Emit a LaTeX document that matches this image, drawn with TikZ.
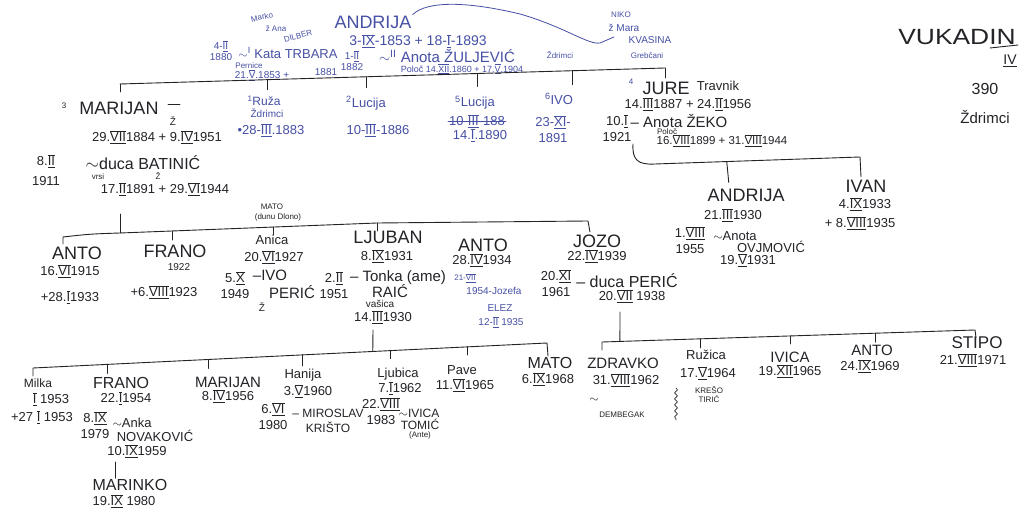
\documentclass[tikz,border=0pt]{standalone}
\usepackage{fontspec}
\setmainfont{Liberation Sans}
\usetikzlibrary{calc,decorations.pathmorphing}
\definecolor{inkc}{RGB}{35,35,40}
\definecolor{bluec}{RGB}{70,80,165}
\newcommand\rn[1]{\ensuremath{\overline{\underline{\mbox{#1}}}}}
\begin{document}
\begin{tikzpicture}[x=1pt,y=-1pt,
  every node/.style={inner sep=1pt, text=inkc, align=center},
  bl/.style={text=bluec},
  nm/.style={font=\fontsize{18}{18}\selectfont},
  fa/.style={font=\fontsize{16}{16}\selectfont},
  fb/.style={font=\fontsize{15}{15}\selectfont},
  fc/.style={font=\fontsize{13}{13}\selectfont},
  fd/.style={font=\fontsize{12}{12}\selectfont},
  dt/.style={font=\fontsize{13}{16}\selectfont},
  sm/.style={font=\fontsize{10}{11}\selectfont},
  tn/.style={font=\fontsize{8}{9}\selectfont},
  ln/.style={draw=inkc, line width=0.9pt, line cap=round, line join=round},
  bln/.style={draw=bluec, line width=0.8pt, line cap=round, line join=round},
]
\useasboundingbox[fill=white] (0,0) rectangle (1024,518);

% ---------- top generation (blue ink) ----------
\node[bl,tn,rotate=12] (marko) at (262,17) {Marko};
\node[bl,tn] (ana) at (276,29) {ž Ana};
\node[bl,tn,rotate=15] (dilber) at (298,36) {DILBER};
\node[bl,nm] (andrija) at (373,22) {ANDRIJA};
\node[bl,font=\fontsize{14}{14}\selectfont] (andrijad) at (418,41) {3-\rn{IX}-1853 + 18-\rn{I}-1893};
\node[bl,sm] (m1880) at (221,51) {4-\rn{II}\\1880};
\node[bl,dt] (kata) at (288,53) {$\sim^{\mathrm{I}}$ Kata TRBARA};
\node[bl,tn] (pernice) at (249,66) {Pernice};
\node[bl,sm] (katad) at (262,75) {21.\rn{V}.1853 +};
\node[bl,sm] (k1881) at (326,72) {1881};
\node[bl,sm] (m1882) at (352,61) {1-\rn{II}\\1882};
\node[bl,fb] (anota1) at (447,56) {$\sim^{\mathrm{II}}$ Anota ŽULJEVIĆ};
\node[bl,tn] (zdr1) at (560,55) {Ždrimci};
\node[bl,font=\fontsize{9}{9}\selectfont] (anota1d) at (462,69) {Poloč 14.\rn{XII}.1860 + 17.\rn{V}.1904};
\node[bl,tn] (niko) at (621,15) {NIKO};
\node[bl,sm] (mara) at (624,28) {ž Mara};
\node[bl,sm] (kvasina) at (650,40) {KVASINA};
\node[bl,tn] (grebcani) at (647,56) {Grebčani};
\coordinate (curveend) at (614,37);
\draw[bln] (andrija.north east) .. controls (428,0) and (470,2) .. (520,14)
  .. controls (565,27) and (588,45) .. (600,43) -- (curveend);

% ---------- generation 1 bar ----------
\coordinate (g1a) at (120,84);
\coordinate (g1b) at (665,68);
\draw[ln] (g1a) -- (g1b);
\coordinate (t1) at ($(g1a)!0.27!(g1b)$);
\coordinate (t2) at ($(g1a)!0.453!(g1b)$);
\coordinate (t3) at ($(g1a)!0.655!(g1b)$);
\coordinate (t4) at ($(g1a)!0.831!(g1b)$);
\draw[ln] (g1a) -- ++(0,8);
\draw[ln] (t1) -- ++(0,10);
\draw[ln] (t2) -- ++(0,11);
\draw[ln] (t3) -- ++(0,13);
\draw[ln] (t4) -- ++(0,14);
\draw[ln] (g1b) -- ++(0,10);

% children of Andrija
\node[tn] (m3) at (64,106) {3};
\node[nm] (marijan) at (119,108) {MARIJAN};
\node[sm] (mz) at (173,121) {Ž};
\draw[ln,line width=0.7pt] (168,104) -- (180,104);
\node[dt] (marijand) at (157,137) {29.\rn{VII}1884 + 9.\rn{IV}1951};
\node[dt,font=\fontsize{13}{20}\selectfont] (m1911) at (46,170) {8.\rn{II}\\1911};
\node[fa] (batinic) at (143,163) {$\sim$duca BATINIĆ};
\node[tn] (vrsi) at (98,177) {vrsi};
\node[tn] (bz) at (158,176) {Ž};
\node[dt] (batinicd) at (165,189) {17.\rn{II}1891 + 29.\rn{VI}1944};

\node[bl,fd] (ruza) at (264,101) {\textsuperscript{1}Ruža};
\node[bl,sm] (ruzab) at (267,113) {Ždrimci};
\node[bl,dt] (ruzad) at (271,130) {•28-\rn{III}.1883};
\node[bl,fc] (lucija1) at (366,103) {\textsuperscript{2}Lucija};
\node[bl,dt] (lucija1d) at (378,130) {10-\rn{III}-1886};
\node[bl,fc] (lucija2) at (475,103) {\textsuperscript{5}Lucija};
\node[bl,dt] (lucija2x) at (477,121) {10-\rn{III}-188};
\draw[bln] (lucija2x.west) -- (lucija2x.east);
\node[bl,dt] (lucija2d) at (480,135) {14.\rn{I}.1890};
\node[bl,fc] (ivo1) at (559,99) {\textsuperscript{6}IVO};
\node[bl,dt] (ivo1d) at (553,129) {23-\rn{XI}-\\1891};

% Jure
\node[bl,tn] (j4) at (631,82) {4};
\node[nm] (jure) at (666,88) {JURE};
\node[fc] (travnik) at (718,86) {Travnik};
\node[dt] (jured) at (688,104) {14.\rn{III}1887 + 24.\rn{II}1956};
\node[dt] (m1921) at (617,128) {10.\rn{I}\\1921};
\node[fb] (zeko) at (679,121) {– Anota ŽEKO};
\node[tn] (poloc2) at (667,132) {Poloč};
\node[font=\fontsize{11.5}{12}\selectfont] (zekod) at (722,141) {16.\rn{VIII}1899 + 31.\rn{VIII}1944};
\coordinate (zk) at (633,144);
\coordinate (zka) at (655,164);
\coordinate (zkb) at (860,157);
\draw[ln] (zk) .. controls (632,160) and (638,165) .. (zka) -- (zkb) -- ++(1,20);
\coordinate (zkt) at ($(zka)!0.35!(zkb)$);
\draw[ln] (zkt) -- ++(2,21);

\node[nm] (andrija2) at (746,195) {ANDRIJA};
\node[dt] (andrija2d) at (733,215) {21.\rn{III}1930};
\node[dt] (m1955) at (690,240) {1.\rn{VIII}\\1955};
\node[fc] (ovj) at (735,236) {$\sim$Anota};
\node[fc] (ovj2) at (771,247) {OVJMOVIĆ};
\node[dt] (ovjd) at (748,260) {19.\rn{V}1931};
\node[nm] (ivan) at (866,186) {IVAN};
\node[dt] (ivand) at (865,204) {4.\rn{IX}1933};
\node[dt] (ivane) at (860,223) {+ 8.\rn{VIII}1935};

% top right
\node[font=\fontsize{22}{22}\selectfont] (vukadin) at (957,37) {\scalebox{1.2}[1]{VUKADIN}};
\draw[ln] (990,48) -- (1018,45);
\node[font=\fontsize{14}{14}\selectfont] (iv) at (1010,61) {\underline{IV}};
\node[fa] (n390) at (985,89) {390};
\node[fb] (zdr2) at (985,117) {Ždrimci};

% ---------- generation 2 (Marijan) ----------
\coordinate (m2top) at (120,214);
\coordinate (g2m) at (120,233);
\coordinate (g2fr) at (172,231);
\coordinate (g2an) at (273,227);
\coordinate (g2lj) at (377,223);
\coordinate (g2jo) at (588,221);
\draw[ln] (63,244) -- (63,237) .. controls (90,234) .. (g2m) -- (g2fr) -- (g2lj) -- (g2jo) -- ++(2,11);
\draw[ln] (m2top) -- (g2m);
\draw[ln] (g2fr) -- ++(0,9);
\draw[ln] (g2an) -- ++(0,8);
\draw[ln] (g2lj) -- ++(0,8);

\node[nm] (anto1) at (77,253) {ANTO};
\node[dt] (anto1d) at (70,271) {16.\rn{VI}1915};
\node[dt] (anto1e) at (70,297) {+28.\rn{I}1933};
\node[nm] (frano1) at (175,251) {FRANO};
\node[sm] (frano1d) at (179,267) {1922};
\node[dt] (frano1e) at (164,292) {+6.\rn{VIII}1923};
\node[tn] (mato1) at (272,207) {MATO};
\node[tn] (mato1b) at (278,217) {(dunu Dlono)};
\node[fc] (anica) at (272,240) {Anica};
\node[dt] (anicad) at (274,257) {20.\rn{VI}1927};
\node[dt] (m1949) at (235,285) {5.\rn{X}\\1949};
\node[fb] (ivo) at (270,275) {–IVO};
\node[fb] (peric1) at (292,292) {PERIĆ};
\node[sm] (pz) at (262,307) {Ž};
\node[nm] (ljuban) at (388,237) {LJUBAN};
\node[dt] (ljuband) at (387,256) {8.\rn{IX}1931};
\node[dt] (m1951) at (334,285) {2.\rn{II}\\1951};
\node[fb] (tonka) at (398,278) {– Tonka (ame)};
\node[fb] (raic) at (390,291) {RAIĆ};
\node[sm] (vasica) at (380,304) {vašica};
\node[dt] (tonkad) at (383,317) {14.\rn{III}1930};
\node[nm] (anto2) at (483,245) {ANTO};
\node[dt] (anto2d) at (482,260) {28.\rn{IV}1934};
\node[bl,tn] (j1) at (465,278) {21-\rn{VII}};
\node[bl,sm] (jozefa) at (494,291) {1954-Jozefa};
\node[bl,sm] (elez) at (500,308) {ELEZ};
\node[bl,sm] (jozefad) at (501,322) {12-\rn{II} 1935};
\node[nm] (jozo) at (597,241) {JOZO};
\node[dt] (jozod) at (597,256) {22.\rn{IV}1939};
\node[dt] (m1961) at (556,283) {20.\rn{XI}\\1961};
\node[fa] (peric2) at (627,281) {– duca PERIĆ};
\node[dt] (peric2d) at (632,296) {20.\rn{VII} 1938};

% ---------- generation 3 (Ljuban) ----------
\coordinate (g3a) at (33,368);
\coordinate (g3b) at (547,343);
\coordinate (g3top) at (373,330);
\coordinate (g3p) at ($(g3a)!0.661!(g3b)$);
\draw[ln] (33,376) -- (g3a) -- (g3b) -- ++(1,13);
\draw[ln] (g3top) -- (g3p);
\draw[ln] ($(g3a)!0.144!(g3b)$) -- ++(0,9);
\draw[ln] ($(g3a)!0.342!(g3b)$) -- ++(0,9);
\draw[ln] ($(g3a)!0.525!(g3b)$) -- ++(0,11);
\draw[ln] ($(g3a)!0.695!(g3b)$) -- ++(0,8);
\draw[ln] ($(g3a)!0.846!(g3b)$) -- ++(0,8);

\node[fd] (milka) at (38,383) {Milka};
\node[dt] (milkad) at (51,399) {\rn{I} 1953};
\node[dt] (milkae) at (42,417) {+27 \rn{I} 1953};
\node[fa] (frano2) at (121,383) {FRANO};
\node[dt] (frano2d) at (126,398) {22.\rn{I}1954};
\node[dt] (m1979) at (95,425) {8.\rn{IX}\\1979};
\node[fc] (anka) at (132,423) {$\sim$Anka};
\node[fc] (novak) at (155,436) {NOVAKOVIĆ};
\node[dt] (ankad) at (137,451) {10.\rn{IX}1959};
\coordinate (mk) at (115,462);
\node[fa] (marinko) at (130,485) {MARINKO};
\draw[ln] (mk) -- (mk |- marinko.north);
\node[dt] (marinkod) at (124,501) {19.\rn{IX} 1980};
\node[fb] (marijan2) at (228,382) {MARIJAN};
\node[dt] (marijan2d) at (228,396) {8.\rn{IV}1956};
\node[fc] (hanija) at (303,375) {Hanija};
\node[dt] (hanijad) at (308,391) {3.\rn{V}1960};
\node[dt] (m1980) at (273,416) {6.\rn{VI}\\1980};
\node[fd] (miroslav) at (328,413) {– MIROSLAV};
\node[fd] (kristo) at (328,427) {KRIŠTO};
\node[fc] (ljubica) at (398,374) {Ljubica};
\node[dt] (ljubicad) at (400,388) {7.\rn{I}1962};
\node[dt] (m1983) at (381,411) {22.\rn{VIII}\\1983};
\node[fd] (ivica1) at (419,413) {$\sim$IVICA};
\node[fd] (tomic) at (420,424) {TOMIĆ};
\node[tn] (ante) at (420,435) {(Ante)};
\node[fc] (pave) at (462,370) {Pave};
\node[dt] (paved) at (465,385) {11.\rn{VI}1965};
\node[fa] (mato2) at (550,363) {MATO};
\node[dt] (mato2d) at (548,379) {6.\rn{IX}1968};

% ---------- generation 3 (Jozo) ----------
\coordinate (g4a) at (602,342);
\coordinate (g4b) at (975,330);
\coordinate (g4top) at (620,312);
\coordinate (g4p) at ($(g4a)!0.048!(g4b)$);
\draw[ln] (602,350) -- (g4a) -- (g4b) -- ++(1,8);
\draw[ln] (g4top) -- (g4p);
\draw[ln] ($(g4a)!0.263!(g4b)$) -- ++(0,9);
\draw[ln] ($(g4a)!0.504!(g4b)$) -- ++(0,8);
\draw[ln] ($(g4a)!0.732!(g4b)$) -- ++(0,9);

\node[fb] (zdravko) at (623,363) {ZDRAVKO};
\node[dt] (zdravkod) at (626,380) {31.\rn{VIII}1962};
\node[dt] (zt) at (594,400) {$\sim$};
\node[tn] (dembegak) at (622,415) {DEMBEGAK};
\node[fc] (ruzica) at (706,355) {Ružica};
\node[dt] (ruzicad) at (708,373) {17.\rn{V}1964};
\node[tn] (kreso) at (709,395) {KREŠO\\TIRIĆ};
\draw[ln,line width=0.6pt,decorate,decoration={snake,amplitude=1.5pt,segment length=6pt}] (676,388) -- (676,420);
\node[fb] (ivica2) at (790,357) {IVICA};
\node[dt] (ivica2d) at (790,371) {19.\rn{XII}1965};
\node[fb] (anto3) at (872,350) {ANTO};
\node[dt] (anto3d) at (870,366) {24.\rn{IX}1969};
\node[font=\fontsize{17}{17}\selectfont] (stipo) at (977,343) {STIPO};
\node[dt] (stipod) at (973,360) {21.\rn{VIII}1971};
\end{tikzpicture}
\end{document}
